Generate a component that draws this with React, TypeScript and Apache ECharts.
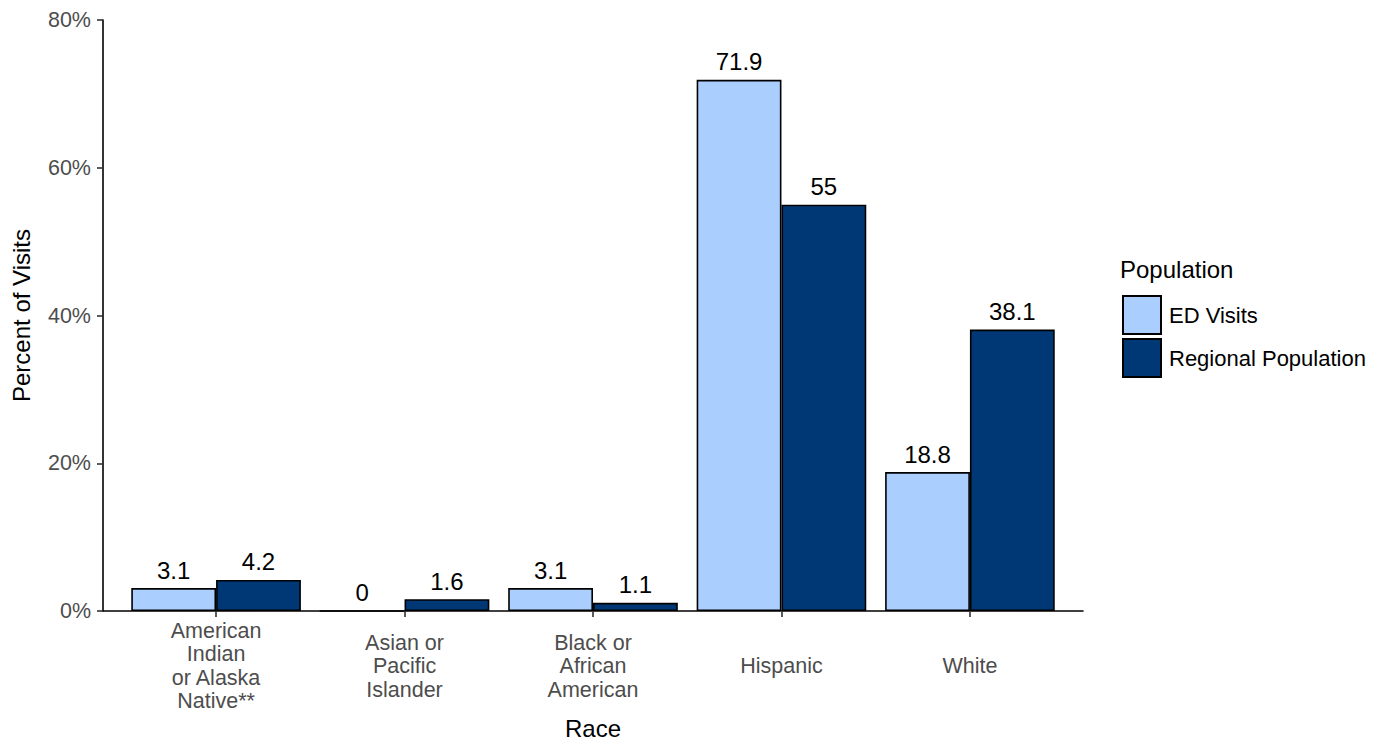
import React, { useEffect, useRef } from "react";
import * as echarts from "echarts";

const categories = [
  "American\nIndian\nor Alaska\nNative**",
  "Asian or\nPacific\nIslander",
  "Black or\nAfrican\nAmerican",
  "Hispanic",
  "White",
];
const categoryPositions = [1, 2, 3, 4, 5];
const edVisits = [3.1, 0, 3.1, 71.9, 18.8];
const regionalPopulation = [4.2, 1.6, 1.1, 55, 38.1];
const seriesNames = ["ED Visits", "Regional Population"];
const seriesColors = ["#AACFFE", "#003876"];
const yMin = 0;
const yMax = 80;
const yInterval = 20;

const FONT = "'Liberation Sans', Arial, Helvetica, sans-serif";

export default function App() {
  const ref = useRef<HTMLDivElement>(null);
  useEffect(() => {
    if (!ref.current) return;
    const chart = echarts.init(ref.current, undefined, { renderer: "svg" });
    const plotWidth = 980;
    const unit = plotWidth / 5.2;
    const barWidth = unit * 0.45;
    const mk = (vals: number[]) => vals.map((v, i) => [categoryPositions[i], v]);
    const seriesData = [edVisits, regionalPopulation];
    chart.setOption({
      animation: false,
      textStyle: { fontFamily: FONT },
      title: {
        text: "Population",
        left: 1115,
        top: 252,
        textStyle: { fontFamily: FONT, fontSize: 24, fontWeight: "normal", color: "#000" },
      },
      legend: {
        orient: "vertical",
        left: 1117,
        top: 290,
        itemWidth: 38,
        itemHeight: 38,
        itemGap: 3,
        icon: "rect",
        data: seriesNames,
        textStyle: { fontFamily: FONT, fontSize: 22, color: "#000", padding: [0, 0, 0, 3] },
      },
      grid: { left: 103, top: 20, width: plotWidth, height: 593, containLabel: false },
      xAxis: {
        type: "value",
        min: 0.4,
        max: 5.6,
        splitLine: { show: false },
        axisLine: { show: true, lineStyle: { color: "#000", width: 1.6 } },
        axisTick: {
          show: true,
          customValues: categoryPositions,
          length: 6,
          lineStyle: { color: "#333", width: 1.6 },
        },
        axisLabel: {
          customValues: categoryPositions,
          formatter: (v: number) => categories[Math.round(v) - 1] ?? "",
          color: "#4D4D4D",
          fontFamily: FONT,
          fontSize: 21.5,
          lineHeight: 23.5,
          align: "center",
          verticalAlign: "middle",
          margin: 55,
        },
        name: "Race",
        nameLocation: "middle",
        nameGap: 105,
        nameMoveOverlap: false,
        nameTextStyle: { fontFamily: FONT, fontSize: 24, color: "#000" },
      },
      yAxis: {
        type: "value",
        min: yMin,
        max: yMax,
        interval: yInterval,
        splitLine: { show: false },
        axisLine: { show: true, lineStyle: { color: "#000", width: 1.6 } },
        axisTick: { show: true, length: 6, lineStyle: { color: "#333", width: 1.6 } },
        axisLabel: {
          formatter: "{value}%",
          color: "#4D4D4D",
          fontFamily: FONT,
          fontSize: 21.5,
          margin: 12,
        },
        name: "Percent of Visits",
        nameLocation: "middle",
        nameGap: 70,
        nameRotate: 90,
        nameMoveOverlap: false,
        nameTextStyle: { fontFamily: FONT, fontSize: 24, color: "#000" },
      },
      series: seriesNames.map((name, si) => ({
        name,
        type: "bar",
        data: mk(seriesData[si]),
        barWidth,
        barGap: "0%",
        itemStyle: { color: seriesColors[si], borderColor: "#000", borderWidth: 1.6 },
        label: {
          show: true,
          position: "top",
          distance: 6,
          formatter: (p: any) => String(p.value[1]),
          color: "#000",
          fontFamily: FONT,
          fontSize: 24,
        },
      })),
    });
    return () => chart.dispose();
  }, []);
  return (
    <div
      ref={ref}
      style={{ position: "fixed", left: 0, top: 0, width: 1387, height: 745, background: "#fff" }}
    />
  );
}
